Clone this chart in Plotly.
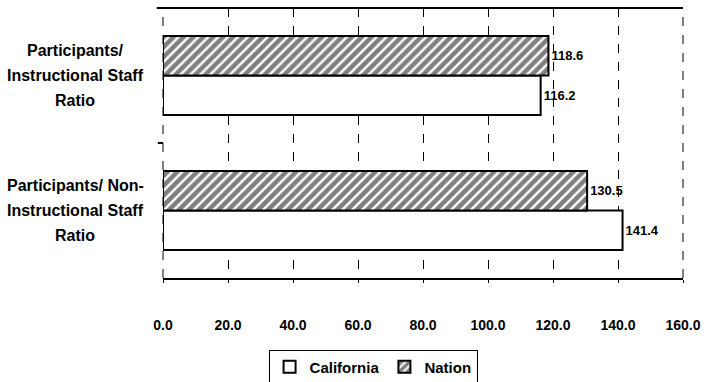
import plotly.graph_objects as go

categories = ["Participants/ Non-Instructional Staff Ratio", "Participants/ Instructional Staff Ratio"]
category_label_lines = [["Participants/ Non-", "Instructional Staff", "Ratio"],
                        ["Participants/", "Instructional Staff", "Ratio"]]
california = [141.4, 116.2]
nation = [130.5, 118.6]
x_ticks = [0, 20, 40, 60, 80, 100, 120, 140, 160]
x_tick_labels = ["0.0", "20.0", "40.0", "60.0", "80.0", "100.0", "120.0", "140.0", "160.0"]

FONT = "Liberation Sans, Arial, sans-serif"

fig = go.Figure()
fig.add_trace(go.Bar(
    name="California", y=categories, x=california, orientation="h",
    marker=dict(color="white", line=dict(color="black", width=2)),
    text=[f"{v:.1f}" for v in california], textposition="outside",
    textfont=dict(family=FONT, size=13, color="black", weight="bold"),
    cliponaxis=False,
))
fig.add_trace(go.Bar(
    name="Nation", y=categories, x=nation, orientation="h",
    marker=dict(color="white", line=dict(color="black", width=2),
                pattern=dict(shape="/", fgcolor="black", bgcolor="white", size=7, solidity=0.65)),
    text=[f"{v:.1f}" for v in nation], textposition="outside",
    textfont=dict(family=FONT, size=13, color="black", weight="bold"),
    cliponaxis=False,
))

LINE_STEP = 25
for cat, lines in zip(categories, category_label_lines):
    n = len(lines)
    for i, line in enumerate(lines):
        fig.add_annotation(
            x=-0.169, xref="paper", y=cat, yref="y", text=line, showarrow=False,
            xanchor="center", yanchor="middle", align="center",
            yshift=((n - 1) / 2 - i) * LINE_STEP,
            font=dict(family=FONT, size=16, color="black", weight="bold"),
        )

fig.update_layout(
    width=706, height=382,
    margin=dict(l=163, r=23, t=8, b=104, autoexpand=False),
    paper_bgcolor="white", plot_bgcolor="white",
    barmode="group", bargap=0.415, bargroupgap=0,
    showlegend=True,
    legend=dict(orientation="h", x=0.404, xanchor="center", y=-0.265, yanchor="top",
                bordercolor="black", borderwidth=1, traceorder="normal",
                font=dict(family=FONT, size=15, color="black", weight="bold"),
                itemsizing="constant", itemwidth=30, tracegroupgap=0),
    xaxis=dict(range=[0, 160], tickvals=x_ticks, ticktext=x_tick_labels,
               automargin=False,
               showgrid=True, gridcolor="black", gridwidth=1, griddash="dash",
               showline=True, linecolor="black", linewidth=2, mirror=False,
               ticks="outside", ticklen=3, tickcolor="black",
               ticklabelstandoff=30,
               tickfont=dict(family=FONT, size=14, color="black", weight="bold"),
               zeroline=False),
    yaxis=dict(categoryorder="array", categoryarray=categories, automargin=False,
               showticklabels=False, showgrid=False,
               showline=False, ticks="", zeroline=False),
)

# top border (solid), left/right borders (dashed)
fig.add_shape(type="line", xref="paper", yref="paper", x0=-0.012, x1=1, y0=1, y1=1,
              line=dict(color="black", width=2))
fig.add_shape(type="line", xref="paper", yref="paper", x0=1, x1=1, y0=0, y1=1,
              line=dict(color="black", width=1, dash="dash"))
fig.add_shape(type="line", xref="paper", yref="paper", x0=0, x1=0, y0=0, y1=1,
              line=dict(color="black", width=1, dash="dash"))
# category separator tick
fig.add_shape(type="line", xref="paper", yref="paper", x0=-0.01, x1=0, y0=0.5, y1=0.5,
              line=dict(color="black", width=2))

fig.write_html("out.html", config={"displayModeBar": False},
               post_script="document.body.style.margin='0';document.body.style.overflow='hidden';")
